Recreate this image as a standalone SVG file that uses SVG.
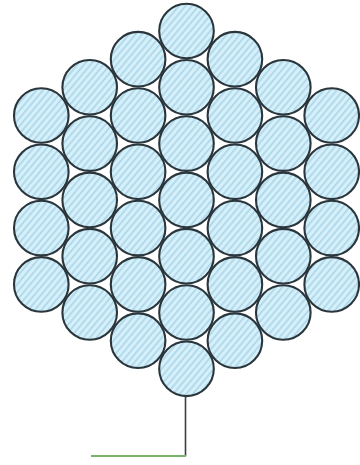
<svg xmlns="http://www.w3.org/2000/svg" width="360" height="465" viewBox="0 0 360 465">
<defs>
<pattern id="hatch" width="5" height="5" patternUnits="userSpaceOnUse" patternTransform="rotate(40)">
<rect width="5" height="5" fill="#d6f0f9"/>
<rect width="1.8" height="5" fill="#afd8ec"/>
</pattern>
<style>
.w{fill:url(#hatch);stroke:#2a363c;stroke-width:2.1}
.ld{fill:none;stroke:#3a3f42;stroke-width:1.6}
.lg{fill:none;stroke:#79b46c;stroke-width:2.2}
</style>
</defs>
<rect width="360" height="465" fill="#ffffff"/>
<g id="col-3">
<g id="w1"><circle class="w" cx="41.3" cy="115.5" r="27.3"/></g>
<g id="w2"><circle class="w" cx="41.3" cy="171.8" r="27.3"/></g>
<g id="w3"><circle class="w" cx="41.3" cy="228.1" r="27.3"/></g>
<g id="w4"><circle class="w" cx="41.3" cy="284.4" r="27.3"/></g>
</g>
<g id="col-2">
<g id="w5"><circle class="w" cx="89.7" cy="87.3" r="27.3"/></g>
<g id="w6"><circle class="w" cx="89.7" cy="143.6" r="27.3"/></g>
<g id="w7"><circle class="w" cx="89.7" cy="199.9" r="27.3"/></g>
<g id="w8"><circle class="w" cx="89.7" cy="256.2" r="27.3"/></g>
<g id="w9"><circle class="w" cx="89.7" cy="312.5" r="27.3"/></g>
</g>
<g id="col-1">
<g id="w10"><circle class="w" cx="138.1" cy="59.2" r="27.3"/></g>
<g id="w11"><circle class="w" cx="138.1" cy="115.5" r="27.3"/></g>
<g id="w12"><circle class="w" cx="138.1" cy="171.8" r="27.3"/></g>
<g id="w13"><circle class="w" cx="138.1" cy="228.1" r="27.3"/></g>
<g id="w14"><circle class="w" cx="138.1" cy="284.4" r="27.3"/></g>
<g id="w15"><circle class="w" cx="138.1" cy="340.7" r="27.3"/></g>
</g>
<g id="col0">
<g id="w16"><circle class="w" cx="186.5" cy="31" r="27.3"/></g>
<g id="w17"><circle class="w" cx="186.5" cy="87.3" r="27.3"/></g>
<g id="w18"><circle class="w" cx="186.5" cy="143.6" r="27.3"/></g>
<g id="w19"><circle class="w" cx="186.5" cy="199.9" r="27.3"/></g>
<g id="w20"><circle class="w" cx="186.5" cy="256.2" r="27.3"/></g>
<g id="w21"><circle class="w" cx="186.5" cy="312.5" r="27.3"/></g>
<g id="w22"><circle class="w" cx="186.5" cy="368.8" r="27.3"/></g>
</g>
<g id="col1">
<g id="w23"><circle class="w" cx="234.9" cy="59.2" r="27.3"/></g>
<g id="w24"><circle class="w" cx="234.9" cy="115.5" r="27.3"/></g>
<g id="w25"><circle class="w" cx="234.9" cy="171.8" r="27.3"/></g>
<g id="w26"><circle class="w" cx="234.9" cy="228.1" r="27.3"/></g>
<g id="w27"><circle class="w" cx="234.9" cy="284.4" r="27.3"/></g>
<g id="w28"><circle class="w" cx="234.9" cy="340.7" r="27.3"/></g>
</g>
<g id="col2">
<g id="w29"><circle class="w" cx="283.3" cy="87.3" r="27.3"/></g>
<g id="w30"><circle class="w" cx="283.3" cy="143.6" r="27.3"/></g>
<g id="w31"><circle class="w" cx="283.3" cy="199.9" r="27.3"/></g>
<g id="w32"><circle class="w" cx="283.3" cy="256.2" r="27.3"/></g>
<g id="w33"><circle class="w" cx="283.3" cy="312.5" r="27.3"/></g>
</g>
<g id="col3">
<g id="w34"><circle class="w" cx="331.7" cy="115.5" r="27.3"/></g>
<g id="w35"><circle class="w" cx="331.7" cy="171.8" r="27.3"/></g>
<g id="w36"><circle class="w" cx="331.7" cy="228.1" r="27.3"/></g>
<g id="w37"><circle class="w" cx="331.7" cy="284.4" r="27.3"/></g>
</g>
<g id="connectors">
<path class="ld" d="M185.5 396 V456"/>
<path class="lg" d="M91 456 H186"/>
</g>
</svg>
